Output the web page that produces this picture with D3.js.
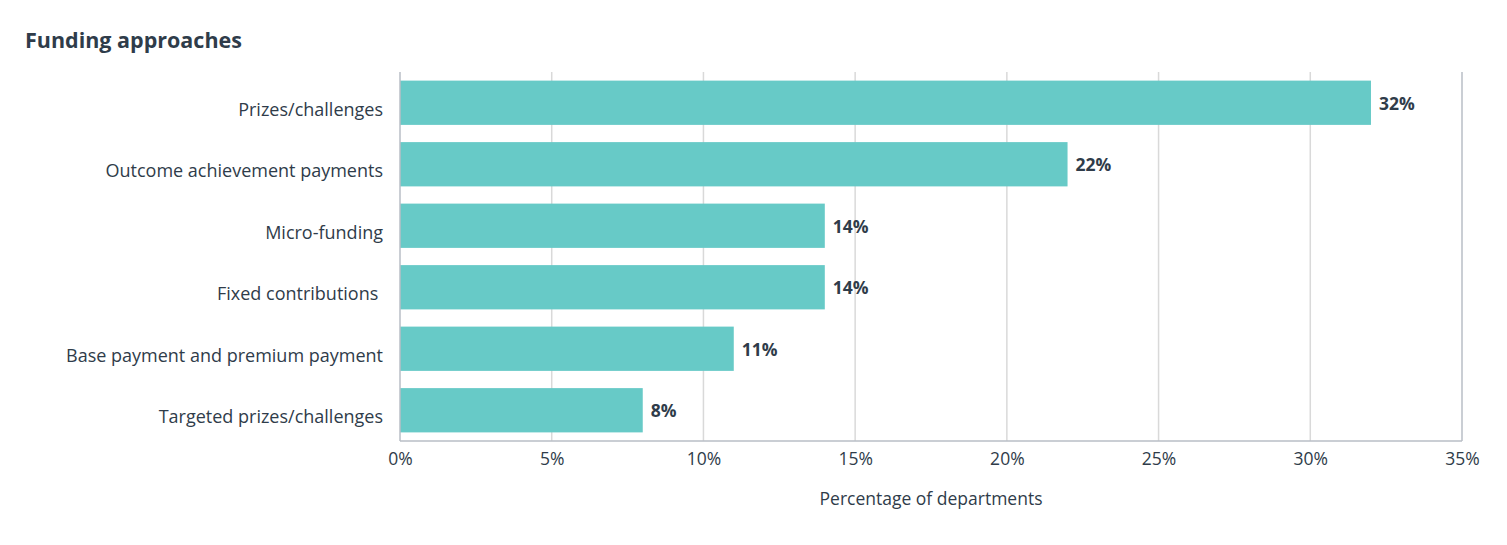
<!DOCTYPE html>
<html>
<head>
<meta charset="utf-8">
<script src="https://cdn.jsdelivr.net/npm/d3@7"></script>
<style>
  body { margin: 0; background: #fff; }
  text { font-family: "Open Sans", "Noto Sans", sans-serif; fill: #2f3c4a; white-space: pre; }
</style>
</head>
<body>
<div id="chart"></div>
<script>
const categories = [
  "Prizes/challenges",
  "Outcome achievement payments",
  "Micro-funding",
  "Fixed contributions ",
  "Base payment and premium payment",
  "Targeted prizes/challenges"
];
const values = [32, 22, 14, 14, 11, 8];
const ticks = [0, 5, 10, 15, 20, 25, 30, 35];

const width = 1507, height = 545;
const margin = { top: 72, right: 45, bottom: 104, left: 400 };

const svg = d3.select("#chart").append("svg")
  .attr("width", width)
  .attr("height", height);

svg.append("text")
  .attr("x", 25)
  .attr("y", 48)
  .attr("font-size", 21.5)
  .attr("font-weight", "bold")
  .text("Funding approaches");

const x = d3.scaleLinear()
  .domain([0, 35])
  .range([margin.left, width - margin.right]);

const y = d3.scaleBand()
  .domain(categories)
  .range([margin.top, height - margin.bottom])
  .paddingInner(0.28)
  .paddingOuter(0.14);

// gridlines
svg.append("g")
  .selectAll("line")
  .data(ticks.slice(1))
  .join("line")
  .attr("x1", d => x(d))
  .attr("x2", d => x(d))
  .attr("y1", margin.top)
  .attr("y2", height - margin.bottom)
  .attr("stroke", d => d === 35 ? "#b8bec6" : "#d9d9d9")
  .attr("stroke-width", 1.5);

// bars
svg.append("g")
  .selectAll("rect")
  .data(values)
  .join("rect")
  .attr("x", x(0))
  .attr("y", (d, i) => y(categories[i]))
  .attr("width", d => x(d) - x(0))
  .attr("height", y.bandwidth())
  .attr("fill", "#67cac7");

// value labels
svg.append("g")
  .selectAll("text")
  .data(values)
  .join("text")
  .attr("x", d => x(d) + 8)
  .attr("y", (d, i) => y(categories[i]) + y.bandwidth() / 2)
  .attr("dy", "0.4em")
  .attr("font-size", 17.5)
  .attr("font-weight", "bold")
  .text(d => d + "%");

// axis lines
svg.append("line")
  .attr("x1", x(0)).attr("x2", x(0))
  .attr("y1", margin.top).attr("y2", height - margin.bottom)
  .attr("stroke", "#b8bec6").attr("stroke-width", 1.5);
svg.append("line")
  .attr("x1", x(0)).attr("x2", x(35))
  .attr("y1", height - margin.bottom).attr("y2", height - margin.bottom)
  .attr("stroke", "#b8bec6").attr("stroke-width", 1.5);

// category labels
const yAxis = svg.append("g")
  .attr("transform", `translate(${margin.left},0)`)
  .call(d3.axisLeft(y).tickSize(0).tickPadding(17));
yAxis.select(".domain").remove();
yAxis.selectAll("text")
  .attr("font-size", 18)
  .attr("font-family", null)
  .attr("dy", "0.72em");

// x tick labels
const xAxis = svg.append("g")
  .attr("transform", `translate(0,${height - margin.bottom})`)
  .call(d3.axisBottom(x).tickValues(ticks).tickFormat(d => d + "%").tickSize(0).tickPadding(12));
xAxis.select(".domain").remove();
xAxis.selectAll("text")
  .attr("font-size", 17.5)
  .attr("font-family", null);

svg.append("text")
  .attr("x", (x(0) + x(35)) / 2)
  .attr("y", 505)
  .attr("text-anchor", "middle")
  .attr("font-size", 17.5)
  .text("Percentage of departments");
</script>
</body>
</html>
